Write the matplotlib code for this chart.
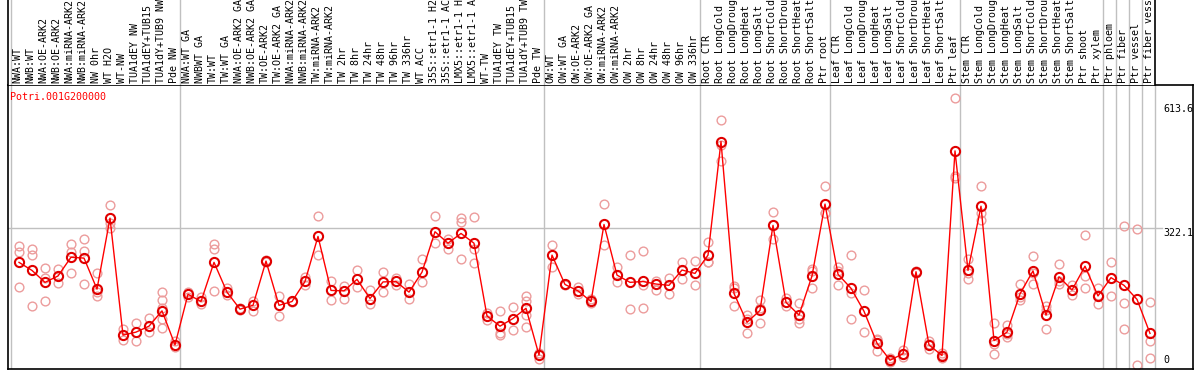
import matplotlib
matplotlib.use("Agg")
import matplotlib.pyplot as plt

gene_id = "Potri.001G200000"

samples = [
    "NWA:WT", "NWB:WT", "NWA:OE-ARK2", "NWB:OE-ARK2", "NWA:miRNA-ARK2", "NWB:miRNA-ARK2",
    "NW 0hr", "WT H2O", "WT-NW", "TUA1dEY NW", "TUA1dEY+TUB15 NW", "TUA1dY+TUB9 NW", "Pde NW",
    "NWA:WT GA", "NWBWT GA", "TW:WT", "TW:WT GA", "NWA:OE-ARK2 GA", "NWB:OE-ARK2 GA",
    "TW:OE-ARK2", "TW:OE-ARK2 GA", "NWA:miRNA-ARK2 GA", "NWB:miRNA-ARK2 GA", "TW:miRNA-ARK2",
    "TW:miRNA-ARK2 GA", "TW 2hr", "TW 8hr", "TW 24hr", "TW 48hr", "TW 96hr", "TW 336hr",
    "WT ACC", "35S::etr1-1 H2O", "35S::etr1-1 ACC", "LMX5::etr1-1 H2O", "LMX5::etr1-1 ACC",
    "WT-TW", "TUA1dEY TW", "TUA1dEY+TUB15 TW", "TUA1dY+TUB9 TW", "Pde TW",
    "OW:WT", "OW:WT GA", "OW:OE-ARK2", "OW:OE-ARK2 GA", "OW:miRNA-ARK2", "OW:miRNA-ARK2 GA",
    "OW 2hr", "OW 8hr", "OW 24hr", "OW 48hr", "OW 96hr", "OW 336hr",
    "Root CTR", "Root LongCold", "Root LongDrought", "Root LongHeat", "Root LongSalt",
    "Root ShortCold", "Root ShortDrought", "Root ShortHeat", "Root ShortSalt", "Ptr root",
    "Leaf CTR", "Leaf LongCold", "Leaf LongDrought", "Leaf LongHeat", "Leaf LongSalt",
    "Leaf ShortCold", "Leaf ShortDrought", "Leaf ShortHeat", "Leaf ShortSalt", "Ptr leaf",
    "Stem CTR", "Stem LongCold", "Stem LongDrought", "Stem LongHeat", "Stem LongSalt",
    "Stem ShortCold", "Stem ShortDrought", "Stem ShortHeat", "Stem ShortSalt", "Ptr shoot",
    "Ptr xylem", "Ptr phloem", "Ptr fiber", "Ptr vessel", "Ptr fiber vessel",
]

means = [
    242, 223, 195, 210, 254, 252, 179, 346, 71, 78, 92, 128, 48,
    167, 150, 242, 172, 132, 141, 245, 141, 150, 197, 303, 176, 175,
    202, 157, 196, 197, 172, 219, 314, 287, 310, 287, 116, 92, 110, 134, 24,
    259, 190, 175, 150, 331, 212, 195, 197, 191, 188, 224, 216,
    259, 526, 169, 101, 129, 329, 148, 118, 210, 379,
    214, 181, 127, 52, 12, 27, 220, 48, 23, 504,
    223, 374, 58, 78, 168, 222, 118, 208, 177, 233, 163,
    206, 188, 155, 75,
]

replicates = [
    [280, 266, 183], [274, 259, 139], [229, 206, 150], [226, 210, 193], [284, 267, 216],
    [297, 269, 190], [216, 173, 162], [376, 334, 322], [85, 60], [99, 58], [111, 79],
    [172, 153, 135, 109, 87], [56, 44],
    [173, 161], [160, 143], [284, 273, 175], [181, 165], [134, 130], [151, 128], [247, 243],
    [164, 115], [152, 148], [208, 189], [350, 259], [197, 153], [186, 157],
    [223, 183], [176, 143], [219, 172], [206, 189], [190, 155], [251, 195], [351, 287],
    [298, 273], [347, 338, 249], [348, 273, 240], [122, 107], [127, 77, 71], [136, 82],
    [163, 150, 118, 91], [30, 15],
    [283, 232], [192, 188], [183, 167], [155, 146], [379, 283], [231, 195], [259, 132],
    [269, 189, 134], [198, 178], [206, 168], [243, 203], [246, 188],
    [290, 244, 243], [577, 518, 481], [186, 182, 139], [118, 108, 77], [153, 135, 99],
    [360, 330, 297], [159, 148, 140], [146, 110, 99], [226, 221, 181], [421, 357, 359],
    [232, 222, 189], [259, 171, 110], [176, 79], [62, 60, 34], [18, 10, 7], [36, 26, 19],
    [222, 218], [56, 50, 38], [28, 25, 16], [628, 444, 440],
    [250, 217, 203], [422, 358, 342], [99, 50, 26], [95, 74, 66], [190, 161, 153],
    [256, 218, 190], [140, 130, 85], [237, 197, 190], [189, 177, 165], [306, 211, 181],
    [181, 165, 143],
    [243, 206, 164], [327, 147, 85], [320, 0], [148, 58, 16],
]

group_starts = [0, 13, 41, 53, 63, 73, 84, 85, 86, 87, 88]
y_ticks = [613.6, 322.1, 0]

W, H = 1194, 370
fig = plt.figure(figsize=(W / 100, H / 100), dpi=100)

MONO = "DejaVu Sans Mono"
FS = 7.2
GRID = "#c0c0c0"


def xpx(p):
    return (p - 19) / 13.0


# main plot axes
ax = fig.add_axes([8 / W, 1 - 369 / H, (1193 - 8) / W, (369 - 85) / H])
ax.set_xlim(xpx(8), xpx(1193))
y_lo = (365.3 - 369) / 0.4254
y_hi = (365.3 - 85) / 0.4254
ax.set_ylim(y_lo, y_hi)
ax.set_xticks([])
ax.set_yticks([])
for s in ax.spines.values():
    s.set_color("black")
    s.set_linewidth(1.2)

off = 8 / 13.0
for k in group_starts:
    ax.axvline(k - off, color=GRID, lw=1, zorder=0)
ax.plot([xpx(8), xpx(1162)], [322.1, 322.1], color=GRID, lw=1, zorder=0)

xs = list(range(len(means)))
for i, reps in enumerate(replicates):
    ax.plot([i] * len(reps), reps, linestyle="none", marker="o", ms=6.3,
            mfc="none", mec="#ec9c9c", mew=1.0, zorder=2)
ax.plot(xs, means, color="#ff0000", lw=1.0, zorder=3)
ax.plot(xs, means, linestyle="none", marker="o", ms=6.6, mfc="none",
        mec="#e00000", mew=1.5, zorder=4)

ax.text((10 - 8) / 1185, (369 - 92) / 284, gene_id, transform=ax.transAxes,
        color="#ff0000", fontsize=FS, family=MONO, ha="left", va="top")

tx = xpx(1163)
ax.text(tx, y_ticks[0], "613.6", fontsize=FS, family=MONO, ha="left", va="top")
ax.text(tx, y_ticks[1], "322.1", fontsize=FS, family=MONO, ha="left", va="top")
ax.text(tx, y_ticks[2], "0", fontsize=FS, family=MONO, ha="left", va="bottom")

# header axes with sample labels (long names are clipped at the top, as in the original)
hx = fig.add_axes([8 / W, 1 - 85 / H, (1155 - 8) / W, 85 / H])
hx.set_xlim(xpx(8), xpx(1155))
hx.set_ylim(0, 85)
hx.set_xticks([])
hx.set_yticks([])
hx.spines["top"].set_visible(False)
hx.spines["bottom"].set_visible(False)
hx.spines["left"].set_linewidth(1.2)
hx.spines["right"].set_linewidth(1.2)
for k in group_starts[:-1]:
    hx.axvline(k - off, color=GRID, lw=1, zorder=0)
for i, name in enumerate(samples):
    hx.text(i - 0.1, 2, name, rotation=90, ha="center", va="bottom",
            fontsize=FS, family=MONO, color="black", clip_on=True)

fig.savefig("out.png", dpi=100)
